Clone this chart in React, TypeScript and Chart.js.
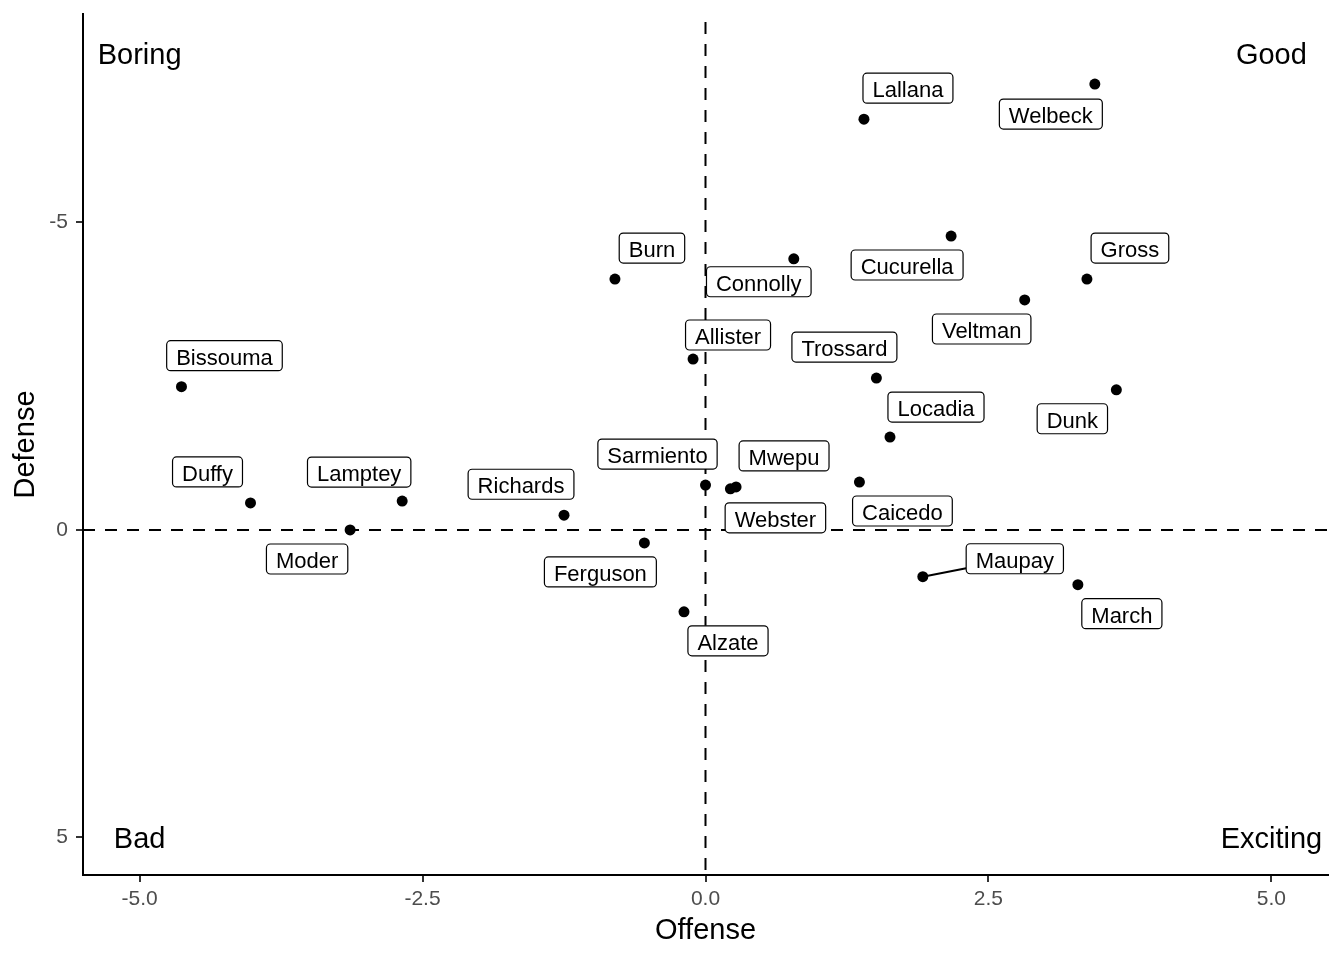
import React, { useEffect, useRef } from "react";
import { Chart, registerables } from "chart.js";

Chart.register(...registerables);

const PLAYERS = [
  "Welbeck", "Lallana", "Cucurella", "Connolly", "Burn", "Gross", "Veltman", "Allister",
  "Trossard", "Bissouma", "Dunk", "Locadia", "Caicedo", "Sarmiento", "Mwepu", "Webster",
  "Duffy", "Lamptey", "Richards", "Moder", "Ferguson", "Maupay", "March", "Alzate",
];
const OFFENSE = [
  3.44, 1.40, 2.17, 0.78, -0.80, 3.37, 2.82, -0.11,
  1.51, -4.63, 3.63, 1.63, 1.36, 0.0, 0.27, 0.22,
  -4.02, -2.68, -1.25, -3.14, -0.54, 1.92, 3.29, -0.19,
];
const DEFENSE = [
  -7.25, -6.68, -4.78, -4.41, -4.08, -4.08, -3.74, -2.78,
  -2.47, -2.33, -2.28, -1.51, -0.78, -0.73, -0.70, -0.67,
  -0.44, -0.47, -0.24, 0.0, 0.21, 0.76, 0.89, 1.33,
];
// label box offsets (repel layout), in pixels from the point
const LABEL_DX = [
  -44, 44, -44, -35, 37, 43, -43, 35,
  -32, 43, -44, 46, 43, -48, 48, 45,
  -43, -43, -43, -43, -44, 92, 44, 44,
];
const LABEL_DY = [
  30, -31, 29, 23, -31, -31, 29, -24,
  -31, -31, 29, -30, 29, -31, -31, 29,
  -31, -29, -31, 29, 29, -18, 29, 29,
];
const X_TICKS = [-5, -2.5, 0, 2.5, 5];
const Y_TICKS = [-5, 0, 5];
const CORNER_TEXT = ["Boring", "Good", "Bad", "Exciting"];
const CORNER_X = [-5, 5, -5, 5];
const CORNER_Y = [-7.75, -7.75, 5, 5];

const FONT = '"Liberation Sans", Arial, Helvetica, sans-serif';

const refLines = {
  id: "refLines",
  beforeDatasetsDraw(chart: any) {
    const { ctx, chartArea, scales } = chart;
    const x0 = scales.x.getPixelForValue(0);
    const y0 = scales.y.getPixelForValue(0);
    ctx.save();
    ctx.strokeStyle = "#000";
    ctx.lineWidth = 2;
    ctx.setLineDash([12, 10]);
    ctx.beginPath();
    ctx.moveTo(x0, chartArea.top + 8);
    ctx.lineTo(x0, chartArea.bottom);
    ctx.stroke();
    ctx.beginPath();
    ctx.moveTo(chartArea.left, y0);
    ctx.lineTo(chartArea.right, y0);
    ctx.stroke();
    ctx.restore();
  },
};

const cornerText = {
  id: "cornerText",
  afterDatasetsDraw(chart: any) {
    const { ctx, scales } = chart;
    ctx.save();
    ctx.fillStyle = "#000";
    ctx.font = `29px ${FONT}`;
    ctx.textAlign = "center";
    ctx.textBaseline = "middle";
    CORNER_TEXT.forEach((t, i) => {
      ctx.fillText(t, scales.x.getPixelForValue(CORNER_X[i]), scales.y.getPixelForValue(CORNER_Y[i]) + 3);
    });
    ctx.restore();
  },
};

const labelBoxes = {
  id: "labelBoxes",
  afterDatasetsDraw(chart: any) {
    const { ctx, scales } = chart;
    ctx.save();
    ctx.font = `22px ${FONT}`;
    const padX = 9.5;
    const h = 30;
    PLAYERS.forEach((name, i) => {
      const px = scales.x.getPixelForValue(OFFENSE[i]);
      const py = scales.y.getPixelForValue(DEFENSE[i]);
      const cx = px + LABEL_DX[i];
      const cy = py + LABEL_DY[i];
      const w = ctx.measureText(name).width + padX * 2;
      const left = cx - w / 2;
      const top = cy - h / 2;
      const nx = Math.max(left, Math.min(px, left + w));
      const ny = Math.max(top, Math.min(py, top + h));
      const dist = Math.hypot(nx - px, ny - py);
      if (dist > 20) {
        const dx = cx - px;
        const dy = cy - py;
        let t = 1;
        if (dx !== 0) t = Math.min(t, Math.abs((w / 2) / dx));
        if (dy !== 0) t = Math.min(t, Math.abs((h / 2) / dy));
        const ex = cx - dx * t;
        const ey = cy - dy * t;
        ctx.strokeStyle = "#000";
        ctx.lineWidth = 2;
        ctx.beginPath();
        ctx.moveTo(px, py);
        ctx.lineTo(ex, ey);
        ctx.stroke();
      }
      ctx.beginPath();
      ctx.roundRect(left, top, w, h, 4);
      ctx.fillStyle = "#fff";
      ctx.fill();
      ctx.strokeStyle = "#000";
      ctx.lineWidth = 1.2;
      ctx.stroke();
      ctx.fillStyle = "#000";
      ctx.textAlign = "center";
      ctx.textBaseline = "middle";
      ctx.fillText(name, cx, cy + 3);
    });
    ctx.restore();
  },
};

export default function App() {
  const canvasRef = useRef<HTMLCanvasElement | null>(null);

  useEffect(() => {
    if (!canvasRef.current) return;
    const chart = new Chart(canvasRef.current, {
      type: "scatter",
      data: {
        datasets: [
          {
            label: "players",
            data: OFFENSE.map((x, i) => ({ x, y: DEFENSE[i] })),
            backgroundColor: "#000",
            borderWidth: 0,
            pointRadius: 5.5,
            pointHoverRadius: 5.5,
          },
        ],
      },
      options: {
        animation: false,
        responsive: false,
        maintainAspectRatio: false,
        events: [],
        layout: { padding: { left: 0, right: 16, top: 14, bottom: 0 } },
        plugins: {
          legend: { display: false },
          tooltip: { enabled: false },
        },
        scales: {
          x: {
            type: "linear",
            min: -5.5,
            max: 5.5,
            afterBuildTicks: (scale: any) => {
              scale.ticks = X_TICKS.map((v) => ({ value: v }));
            },
            afterFit: (scale: any) => {
              scale.height = 85;
              scale.paddingLeft = 0;
              scale.paddingRight = 0;
            },
            ticks: {
              autoSkip: false,
              maxRotation: 0,
              padding: 5,
              color: "#4D4D4D",
              font: { family: FONT, size: 21 },
              callback: (v: any) => Number(v).toFixed(1),
            },
            grid: {
              drawOnChartArea: false,
              drawTicks: true,
              tickLength: 7,
              color: "#333",
              lineWidth: 2,
            },
            border: { display: true, color: "#000", width: 2 },
            title: {
              display: true,
              text: "Offense",
              color: "#000",
              font: { family: FONT, size: 29 },
              padding: { top: 0, bottom: 12 },
            },
          },
          y: {
            type: "linear",
            reverse: true,
            min: -8.39,
            max: 5.61,
            afterBuildTicks: (scale: any) => {
              scale.ticks = Y_TICKS.map((v) => ({ value: v }));
            },
            afterFit: (scale: any) => {
              scale.width = 83;
              scale.paddingTop = 0;
              scale.paddingBottom = 0;
            },
            ticks: {
              autoSkip: false,
              padding: 8,
              color: "#4D4D4D",
              font: { family: FONT, size: 21 },
              callback: (v: any) => String(v),
            },
            grid: {
              drawOnChartArea: false,
              drawTicks: true,
              tickLength: 7,
              color: "#333",
              lineWidth: 2,
            },
            border: { display: true, color: "#000", width: 2 },
            title: {
              display: true,
              text: "Defense",
              color: "#000",
              font: { family: FONT, size: 29 },
              padding: { top: 9, bottom: 0 },
            },
          },
        },
      },
      plugins: [refLines, labelBoxes, cornerText],
    });
    return () => chart.destroy();
  }, []);

  return (
    <div style={{ position: "absolute", left: 0, top: 0, width: 1344, height: 960, background: "#fff" }}>
      <canvas ref={canvasRef} width={1344} height={960} style={{ width: 1344, height: 960 }} />
    </div>
  );
}
